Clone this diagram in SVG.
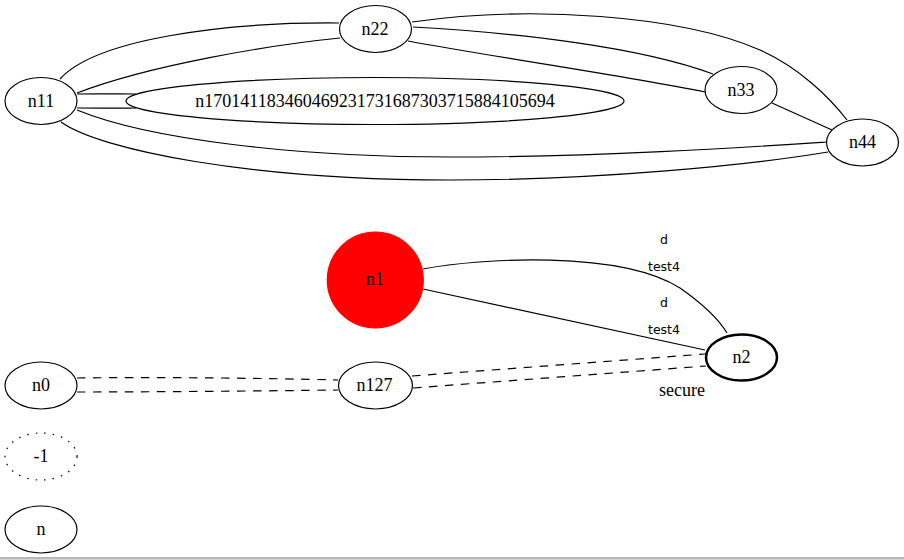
<svg xmlns="http://www.w3.org/2000/svg" width="904" height="559" viewBox="0 0 904 559">
  <style>
    .node ellipse, .node circle { fill: #ffffff; stroke: #000000; stroke-width: 1.2; }
    .lbl { font-family: "Liberation Serif", "Times New Roman", serif; font-size: 18px; fill: #000000; text-anchor: middle; }
    .elbl { font-family: "DejaVu Sans", "Liberation Sans", sans-serif; font-size: 12.5px; fill: #000000; text-anchor: middle; }
    .edges path { fill: none; stroke: #000000; stroke-width: 1.2; }
    .edges path.dash { stroke-dasharray: 8.5 7.5; }
  </style>
  <rect x="0" y="0" width="904" height="559" fill="#ffffff"/>

  <!-- connectors -->
  <g id="edges" class="edges">
    <!-- upper cluster -->
    <path d="M60,79 C95,40 220,22 339,23"/>
    <path d="M77,93 C150,65 270,45 340,38"/>
    <path d="M77,94 C100,94 120,93.5 136,94"/>
    <path d="M77,108 C100,108 120,108.5 136,108"/>
    <path d="M77,110 C150,140 300,157 450,157 C600,157 750,147 827,142"/>
    <path d="M61,122 C100,150 250,180 450,180 C600,180 750,165 828,152"/>
    <path d="M412,22 C530,5 680,15 760,50 C800,68 830,98 847,120"/>
    <path d="M413,27 C520,33 640,47 713,74"/>
    <path d="M408,41 C500,58 620,75 705,92"/>
    <path d="M772,103 L832,130"/>
    <!-- lower cluster -->
    <path d="M423,269 C480,258 620,250 680,288 C700,302 718,318 727,333"/>
    <path d="M423,289 L705,350"/>
    <path class="dash" d="M412,376 L705,354"/>
    <path class="dash" d="M413,388 L706,366"/>
    <path class="dash" d="M77,378 C150,377 260,378 338,380"/>
    <path class="dash" d="M77,392 C150,392 260,391 338,390"/>
    <!-- edge labels -->
    <text class="elbl" x="664" y="244.3">d</text>
    <text class="elbl" x="664" y="270.5">test4</text>
    <text class="elbl" x="664" y="307.3">d</text>
    <text class="elbl" x="664" y="334">test4</text>
    <text class="lbl" x="682" y="396">secure</text>
  </g>

  <!-- nodes -->
  <g id="n11" class="node">
    <ellipse cx="41" cy="101" rx="36" ry="23.5"/>
    <text class="lbl" x="41" y="106.5">n11</text>
  </g>
  <g id="n22" class="node">
    <ellipse cx="375.5" cy="29" rx="36" ry="23.5"/>
    <text class="lbl" x="375" y="34.5">n22</text>
  </g>
  <g id="n170141183460469231731687303715884105694" class="node">
    <ellipse cx="375" cy="101" rx="249" ry="23.5"/>
    <text class="lbl" x="375" y="106.5">n170141183460469231731687303715884105694</text>
  </g>
  <g id="n33" class="node">
    <ellipse cx="741" cy="90" rx="36" ry="23.5"/>
    <text class="lbl" x="741" y="96">n33</text>
  </g>
  <g id="n44" class="node">
    <ellipse cx="862.5" cy="142.5" rx="36" ry="23.5"/>
    <text class="lbl" x="862.5" y="148">n44</text>
  </g>
  <g id="n1" class="node">
    <circle cx="375.3" cy="280" r="48" style="fill:#ff0000;stroke:#ff0000"/>
    <text class="lbl" x="375" y="285">n1</text>
  </g>
  <g id="n2" class="node">
    <ellipse cx="741.5" cy="357.5" rx="35.5" ry="23" style="stroke-width:2.5"/>
    <text class="lbl" x="741.5" y="363">n2</text>
  </g>
  <g id="n127" class="node">
    <ellipse cx="375.5" cy="385.5" rx="37" ry="23.5"/>
    <text class="lbl" x="374.5" y="391">n127</text>
  </g>
  <g id="n0" class="node">
    <ellipse cx="41" cy="385.5" rx="36" ry="23.5"/>
    <text class="lbl" x="41" y="391">n0</text>
  </g>
  <g id="m1" class="node">
    <ellipse cx="41" cy="456.5" rx="36" ry="23.5" style="stroke-dasharray:1.5 7"/>
    <text class="lbl" x="41" y="462.3">-1</text>
  </g>
  <g id="n" class="node">
    <ellipse cx="41" cy="529.5" rx="36" ry="23.5"/>
    <text class="lbl" x="41" y="535">n</text>
  </g>

  <!-- bottom border -->
  <line x1="0" y1="558" x2="904" y2="558" stroke="#a0a0a0" stroke-width="1.5"/>
</svg>
